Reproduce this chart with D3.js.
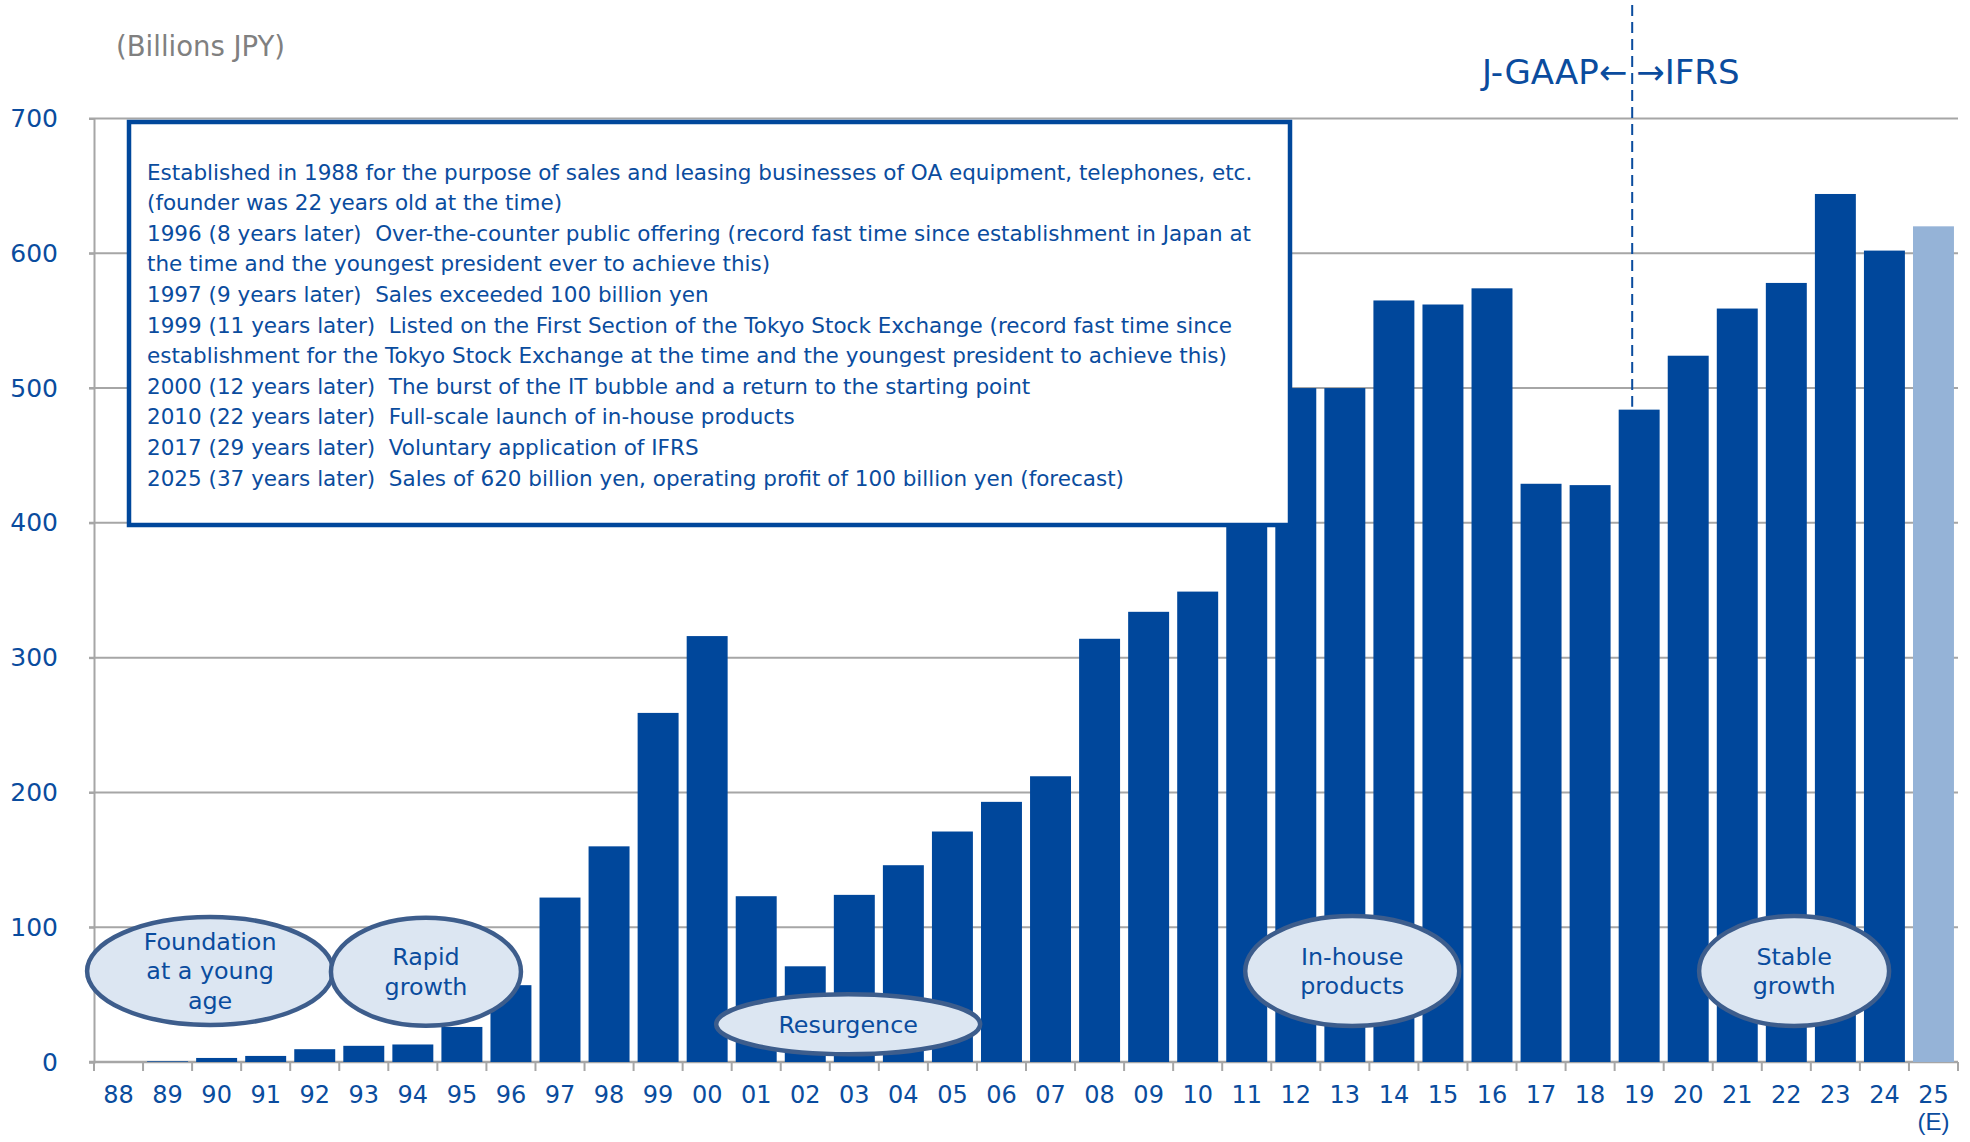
<!DOCTYPE html>
<html>
<head>
<meta charset="utf-8">
<script src="https://cdn.jsdelivr.net/npm/d3@7"></script>
<style>
  html, body { margin: 0; padding: 0; background: #ffffff; }
  svg { display: block; font-family: "DejaVu Sans", Verdana, sans-serif; }
</style>
</head>
<body>
<svg id="chart" width="1970" height="1142"></svg>
<script>
// ---- data ----
const categories = ["88","89","90","91","92","93","94","95","96","97","98","99","00","01","02","03","04","05","06","07","08","09","10","11","12","13","14","15","16","17","18","19","20","21","22","23","24","25"];
const sales = [0, 0.5, 3, 4.5, 9.5, 12, 13, 26, 57, 122, 160, 259, 316, 123, 71, 124, 146, 171, 193, 212, 314, 334, 349, 420, 500, 500, 565, 562, 574, 429, 428, 484, 524, 559, 578, 644, 602, 620];
const forecastCategories = ["25"];
const yTicks = [0, 100, 200, 300, 400, 500, 600, 700];
const unitLabel = "(Billions JPY)";
const historyLines = [
  "Established in 1988 for the purpose of sales and leasing businesses of OA equipment, telephones, etc.",
  "(founder was 22 years old at the time)",
  "1996 (8 years later)  Over-the-counter public offering (record fast time since establishment in Japan at",
  "the time and the youngest president ever to achieve this)",
  "1997 (9 years later)  Sales exceeded 100 billion yen",
  "1999 (11 years later)  Listed on the First Section of the Tokyo Stock Exchange (record fast time since",
  "establishment for the Tokyo Stock Exchange at the time and the youngest president to achieve this)",
  "2000 (12 years later)  The burst of the IT bubble and a return to the starting point",
  "2010 (22 years later)  Full-scale launch of in-house products",
  "2017 (29 years later)  Voluntary application of IFRS",
  "2025 (37 years later)  Sales of 620 billion yen, operating profit of 100 billion yen (forecast)"
];
const phaseLabels = [
  ["Foundation", "at a young", "age"],
  ["Rapid", "growth"],
  ["Resurgence"],
  ["In-house", "products"],
  ["Stable", "growth"]
];
const gaapLeft = "J-GAAP\u2190";
const gaapRight = "\u2192IFRS";
const gaapSwitchCategory = "19";

// ---- layout ----
const BLUE = "#00479b";
const LIGHT = "#95b3d7";
const TEXTBLUE = "#0a4c9e";
const GRID = "#a6a6a6";

const svg = d3.select("#chart");
const plotLeft = 94, plotRight = 1958, plotTop = 118.5, plotBottom = 1062;

const x = d3.scaleBand().domain(categories).range([plotLeft, plotRight]).paddingInner(0.165).paddingOuter(0.0825);
const y = d3.scaleLinear().domain([0, 700]).range([plotBottom, plotTop]);
const step = x.step();

// gridlines
svg.append("g").selectAll("line").data(yTicks).join("line")
  .attr("x1", plotLeft - 5).attr("x2", plotRight)
  .attr("y1", d => y(d)).attr("y2", d => y(d))
  .attr("stroke", GRID).attr("stroke-width", d => d === 0 ? 2.5 : 2);

// y axis
const yAxis = svg.append("g").attr("transform", `translate(${plotLeft},0)`)
  .call(d3.axisLeft(y).tickValues(yTicks).tickSize(5).tickPadding(31).tickFormat(d3.format("d")));
yAxis.select(".domain").attr("stroke", GRID).attr("stroke-width", 2);
yAxis.selectAll(".tick line").attr("stroke", GRID).attr("stroke-width", 2);
yAxis.selectAll(".tick text").attr("fill", TEXTBLUE).attr("font-size", 25)
  .attr("font-family", "DejaVu Sans, sans-serif");

// bars
svg.append("g").selectAll("rect").data(categories).join("rect")
  .attr("x", d => x(d))
  .attr("width", x.bandwidth())
  .attr("y", (d, i) => y(sales[i]))
  .attr("height", (d, i) => y(0) - y(sales[i]))
  .attr("fill", d => forecastCategories.includes(d) ? LIGHT : BLUE);

// x axis: boundary ticks + labels
const xAxis = svg.append("g").attr("transform", `translate(0,${plotBottom})`)
  .call(d3.axisBottom(x).tickSize(0).tickPadding(24));
xAxis.select(".domain").remove();
xAxis.selectAll(".tick text").attr("fill", TEXTBLUE).attr("font-size", 24)
  .attr("font-family", "DejaVu Sans, sans-serif");
xAxis.selectAll(".tick").filter(d => forecastCategories.includes(d))
  .append("text").attr("y", 51).attr("dy", "0.71em").attr("fill", TEXTBLUE)
  .attr("font-size", 24).attr("text-anchor", "middle").text("(E)");
svg.append("g").selectAll("line").data(d3.range(categories.length + 1)).join("line")
  .attr("x1", i => plotLeft + i * step).attr("x2", i => plotLeft + i * step)
  .attr("y1", plotBottom).attr("y2", plotBottom + 9)
  .attr("stroke", GRID).attr("stroke-width", 2);

// unit label
svg.append("text").attr("x", 116).attr("y", 46).attr("dy", "0.35em")
  .attr("fill", "#808080").attr("font-size", 27.5).text(unitLabel);

// history box
svg.append("rect").attr("x", 129).attr("y", 122).attr("width", 1161).attr("height", 403)
  .attr("fill", "#ffffff").attr("stroke", BLUE).attr("stroke-width", 4.5);
const histText = svg.append("g");
histText.selectAll("text").data(historyLines).join("text")
  .attr("x", 147).attr("y", (d, i) => 172 + i * 30.6).attr("dy", "0.35em")
  .attr("fill", TEXTBLUE).attr("font-size", 21.5).attr("xml:space", "preserve")
  .style("white-space", "pre").text(d => d);

// GAAP divider
const divX = x(gaapSwitchCategory) + x.bandwidth() * 0.33;
svg.append("line").attr("x1", divX).attr("x2", divX).attr("y1", 5).attr("y2", y(sales[categories.indexOf(gaapSwitchCategory)]) - 3)
  .attr("stroke", TEXTBLUE).attr("stroke-width", 2).attr("stroke-dasharray", "11,6");
svg.append("text").attr("x", divX - 5).attr("y", 72).attr("dy", "0.35em").attr("text-anchor", "end")
  .attr("fill", TEXTBLUE).attr("font-size", 34).text(gaapLeft);
svg.append("text").attr("x", divX + 4).attr("y", 72).attr("dy", "0.35em").attr("text-anchor", "start")
  .attr("fill", TEXTBLUE).attr("font-size", 34).text(gaapRight);

// phase ellipses (positions tied to category bands)
const ellipses = [
  { cx: x("90") + x.bandwidth() * 0.34, cy: y(67.5), rx: 123, ry: 54, lines: phaseLabels[0] },
  { cx: x("94") + x.bandwidth() * 0.82, cy: y(67), rx: 95, ry: 54, lines: phaseLabels[1] },
  { cx: x("03") + x.bandwidth() * 0.35, cy: y(28), rx: 132, ry: 30, lines: phaseLabels[2] },
  { cx: x("13") + x.bandwidth() * 0.68, cy: y(67.5), rx: 107, ry: 55, lines: phaseLabels[3] },
  { cx: x("22") + x.bandwidth() * 0.69, cy: y(67.5), rx: 95, ry: 55, lines: phaseLabels[4] }
];
const eg = svg.append("g").selectAll("g").data(ellipses).join("g");
eg.append("ellipse").attr("cx", d => d.cx).attr("cy", d => d.cy).attr("rx", d => d.rx).attr("ry", d => d.ry)
  .attr("fill", "#dce6f2").attr("stroke", "#3d5d8c").attr("stroke-width", 4.5);
eg.each(function(d) {
  const g = d3.select(this);
  const n = d.lines.length;
  d.lines.forEach((t, i) => {
    g.append("text").attr("x", d.cx).attr("y", d.cy + (i - (n - 1) / 2) * 29.5).attr("dy", "0.35em")
      .attr("text-anchor", "middle").attr("fill", TEXTBLUE).attr("font-size", 23.8).text(t);
  });
});
</script>
</body>
</html>
